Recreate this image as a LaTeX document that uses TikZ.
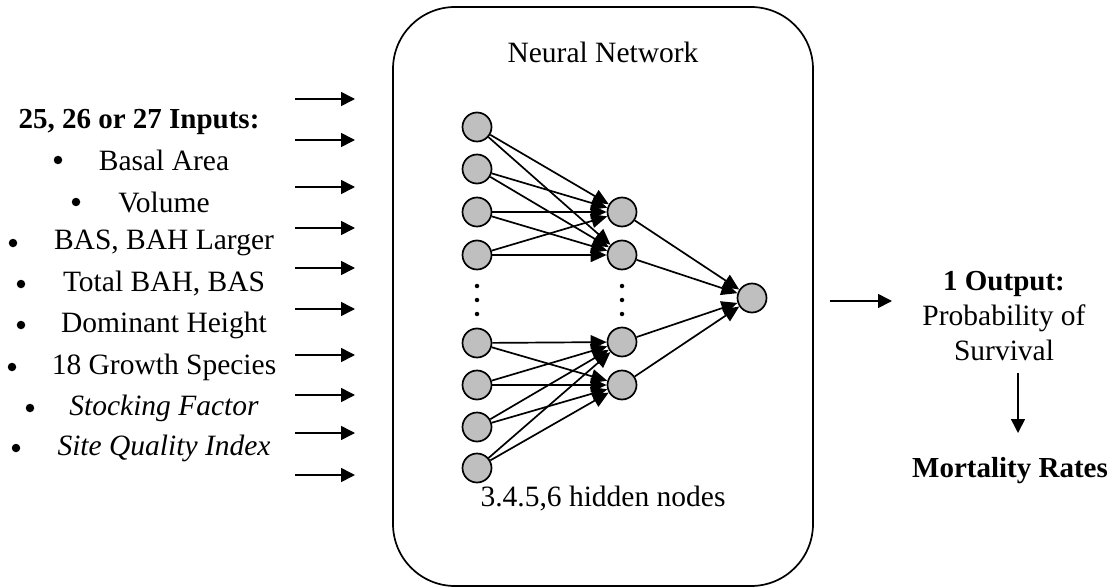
\documentclass[tikz,border=0pt]{standalone}
\usepackage{fontspec}
\setmainfont{Liberation Serif}
\usetikzlibrary{arrows.meta}
\begin{document}
\begin{tikzpicture}[x=1pt,y=-1pt,
  neuron/.style={circle,draw,line width=1.7pt,fill=black!25,minimum size=29pt,inner sep=0pt},
  link/.style={line width=1.7pt,-{Triangle[length=16pt,width=14pt]}},
  feed/.style={line width=1.6pt,-{Triangle[length=14pt,width=14pt]}},
  txt/.style={font=\fontsize{29.5}{35}\selectfont,inner sep=0pt},
  btxt/.style={font=\fontsize{29}{35}\selectfont\bfseries,inner sep=0pt},
  dot/.style={circle,fill=black,inner sep=0pt,minimum size=4.5pt},
  bullet/.style={circle,fill=black,inner sep=0pt,minimum size=8.5pt}
]
\useasboundingbox (0,0) rectangle (1115,588);

% network frame
\node[draw,line width=1.7pt,rounded corners=62pt,minimum width=420pt,minimum height=579pt,inner sep=0pt] (frame) at (603,296.5) {};
\node[txt] (nntitle) at (603,52) {Neural Network};
\node[txt] (hidden) at (603,499) {3.4.5,6 hidden nodes};

% input layer
\foreach \i/\y in {1/127,2/169,3/212,4/255,5/343,6/385,7/427,8/468}
  \node[neuron] (in\i) at (477,\y) {};
% hidden layer
\foreach \i/\y in {1/212,2/255,3/342,4/385}
  \node[neuron] (h\i) at (622,\y) {};
% output neuron
\node[neuron] (out) at (752,298) {};

% ellipsis dots
\foreach \y [count=\k] in {286,300,314}{
  \node[dot] (da\k) at (477,\y) {};
  \node[dot] (db\k) at (622,\y) {};
}

% connections
\foreach \i in {1,2,3,4}{
  \draw[link] (in\i) -- (h1);
  \draw[link] (in\i) -- (h2);
}
\foreach \i in {5,6,7,8}{
  \draw[link] (in\i) -- (h3);
  \draw[link] (in\i) -- (h4);
}
\foreach \i in {1,2,3,4}
  \draw[link] (h\i) -- (out);

% input arrows
\foreach \y [count=\k] in {99,140,187,228,268,309,355,395,433,475}{
  \coordinate (fs\k) at (295,\y);
  \coordinate (fe\k) at (355,\y);
  \draw[feed] (fs\k) -- (fe\k);
}

% inputs list
\node[btxt] (intitle) at (139,122) {25, 26 or 27 Inputs:};
\foreach \name/\bx/\y/\t in {
  b1/58/160/{Basal Area},
  b2/76/202/{Volume},
  b3/13/243/{BAS, BAH Larger},
  b4/21/284/{Total BAH, BAS},
  b5/21/325/{Dominant Height},
  b6/12/367/{18 Growth Species},
  b7/30/408/{\itshape Stocking Factor},
  b8/16/448/{\itshape Site Quality Index}}{
  \node[bullet] (\name) at (\bx,\y) {};
  \node[txt] (t\name) at (164,\y) {\t};
}

% output side
\node[btxt] (outtitle) at (1004,284) {1 Output:};
\node[txt] (prob) at (1004,318) {Probability of};
\node[txt] (surv) at (1004,350) {Survival};
\node[btxt] (mort) at (1010,471) {Mortality Rates};
\coordinate (os) at (830,301);
\coordinate (oe) at (892,301);
\draw[feed] (os) -- (oe);
\coordinate (ds) at (1018,373);
\coordinate (de) at (1018,433);
\draw[feed] (ds) -- (de);
\end{tikzpicture}
\end{document}
